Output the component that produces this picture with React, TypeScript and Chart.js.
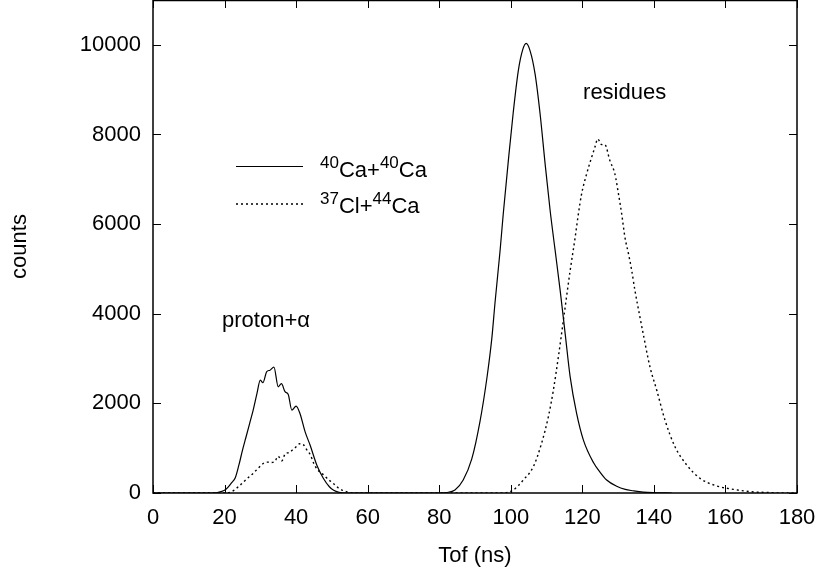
import React, { useEffect, useRef } from "react";
import { Chart, registerables } from "chart.js";

Chart.register(...registerables);

const FONT = "'Liberation Sans', Arial, Helvetica, sans-serif";

// ---- data (Tof in ns, counts) ----
const solidTof = [0, 17, 18, 19, 20, 21, 22, 23, 24, 25, 26, 27, 28, 29, 30, 30.7, 31.8, 32.7, 33.8, 35.0, 35.9, 36.9, 37.8, 38.8, 40.0, 41.1, 42.5, 43.9, 45.8, 47.6, 49.3, 50.5, 52, 54, 80, 82, 84.4, 86.7, 89.1, 91.4, 93.3, 94.7, 95.6, 97.0, 97.9, 99.3, 100.7, 102.1, 103.3, 104.3, 105.4, 106.8, 108.2, 109.6, 111.0, 112.4, 113.8, 115.2, 116.6, 118.4, 120.3, 123.1, 124.9, 126.8, 129.6, 132, 134.2, 137, 140, 145];
const solidCounts = [0, 0, 10, 30, 60, 130, 230, 340, 620, 950, 1250, 1550, 1850, 2200, 2520, 2460, 2710, 2740, 2810, 2370, 2440, 2260, 2200, 1850, 1940, 1770, 1370, 1070, 620, 330, 140, 60, 15, 0, 0, 10, 67, 290, 760, 1600, 2550, 3450, 4250, 5400, 6230, 7400, 8500, 9420, 9880, 10030, 9866, 9347, 8456, 7343, 6302, 5412, 4520, 3557, 2590, 1775, 1180, 680, 470, 290, 150, 80, 50, 20, 7, 0];

const dottedTof = [0, 20, 22, 24, 26, 28, 30, 31, 32, 33, 34, 35, 36, 37, 38, 39, 40, 41, 42, 43, 44, 45, 46, 47, 48, 49, 50, 51, 52, 53, 54, 55, 56, 98, 100.7, 103.5, 106.3, 108.6, 110.5, 111.9, 113.3, 114.7, 116.6, 118.0, 118.9, 119.8, 121.2, 122.6, 123.5, 124.3, 125.4, 126.3, 127.7, 129.1, 130.1, 131.0, 131.9, 132.9, 133.8, 134.7, 136.1, 137.0, 138.9, 140.8, 143.1, 145.9, 149.2, 152.9, 157.6, 162.2, 166.9, 173.4, 176, 180];
const dottedCounts = [0, 0, 30, 150, 300, 440, 600, 670, 690, 680, 700, 820, 720, 880, 900, 960, 1030, 1100, 1080, 960, 850, 650, 520, 450, 380, 300, 240, 170, 100, 60, 30, 10, 0, 0, 67, 290, 586, 1107, 1700, 2294, 3036, 3853, 4966, 5708, 6229, 6674, 7120, 7490, 7712, 7899, 7772, 7772, 7416, 7120, 6674, 6229, 5708, 5338, 4966, 4520, 3926, 3557, 2813, 2294, 1626, 1031, 624, 327, 156, 82, 30, 7, 0, 0];

const xTicks = [0, 20, 40, 60, 80, 100, 120, 140, 160, 180];
const yTicks = [0, 2000, 4000, 6000, 8000, 10000];
const xRange = [0, 180];
const yRange = [0, 11000];

const seriesLabels = ["40Ca+40Ca", "37Cl+44Ca"];
// rich legend text: [text, isSuperscript]
const legendRich: [string, boolean][][] = [
  [["40", true], ["Ca+", false], ["40", true], ["Ca", false]],
  [["37", true], ["Cl+", false], ["44", true], ["Ca", false]],
];
const annotations = [
  { text: "residues", x: 120.2, y: 8800 },
  { text: "proton+\u03b1", x: 19.3, y: 3700 },
];

const toPoints = (xs: number[], ys: number[]) => xs.map((x, i) => ({ x, y: ys[i] }));

export default function App() {
  const ref = useRef<HTMLCanvasElement>(null);

  useEffect(() => {
    const canvas = ref.current!;
    const overlay = {
      id: "overlay",
      afterDraw(chart: any) {
        const { ctx, chartArea } = chart;
        const { left, right, top, bottom } = chartArea;
        const xs = chart.scales.x;
        const ys = chart.scales.y;
        ctx.save();
        ctx.strokeStyle = "#000";
        // frame
        ctx.lineWidth = 1.5;
        ctx.strokeRect(left, top + 0.5, right - left, bottom - top - 0.5);
        // inward ticks on all four sides
        ctx.lineWidth = 1;
        const tl = 8;
        xs.ticks.forEach((t: any) => {
          const px = Math.round(xs.getPixelForValue(t.value)) + 0.5;
          ctx.beginPath();
          ctx.moveTo(px, bottom);
          ctx.lineTo(px, bottom - tl);
          ctx.moveTo(px, top);
          ctx.lineTo(px, top + tl);
          ctx.stroke();
        });
        ys.ticks.forEach((t: any) => {
          const py = Math.round(ys.getPixelForValue(t.value)) + 0.5;
          ctx.beginPath();
          ctx.moveTo(left, py);
          ctx.lineTo(left + tl, py);
          ctx.moveTo(right, py);
          ctx.lineTo(right - tl, py);
          ctx.stroke();
        });
        // annotations
        ctx.fillStyle = "#000";
        ctx.font = `22px ${FONT}`;
        ctx.textAlign = "left";
        ctx.textBaseline = "alphabetic";
        annotations.forEach((a) => {
          ctx.fillText(a.text, xs.getPixelForValue(a.x), ys.getPixelForValue(a.y));
        });
        // legend
        const rows = [166.5, 204];
        const baselines = [177, 213];
        chart.data.datasets.forEach((ds: any, i: number) => {
          ctx.save();
          ctx.lineWidth = ds.borderWidth;
          ctx.setLineDash(ds.borderDash || []);
          ctx.beginPath();
          ctx.moveTo(236, rows[i]);
          ctx.lineTo(303, rows[i]);
          ctx.stroke();
          ctx.restore();
          let x = 320;
          legendRich[i].forEach(([txt, sup]) => {
            ctx.font = sup ? `17px ${FONT}` : `22px ${FONT}`;
            ctx.fillText(txt, x, sup ? baselines[i] - 9 : baselines[i]);
            x += ctx.measureText(txt).width;
          });
        });
        ctx.restore();
      },
    };

    const zeroPad = (s: any) => {
      s.paddingTop = 0;
      s.paddingBottom = 0;
      s.paddingLeft = 0;
      s.paddingRight = 0;
    };

    const chart = new Chart(canvas, {
      type: "line",
      data: {
        datasets: [
          {
            label: seriesLabels[0],
            data: toPoints(solidTof, solidCounts),
            borderColor: "#000",
            borderWidth: 1.2,
            pointRadius: 0,
            cubicInterpolationMode: "monotone",
            fill: false,
          },
          {
            label: seriesLabels[1],
            data: toPoints(dottedTof, dottedCounts),
            borderColor: "#000",
            borderWidth: 1.4,
            borderDash: [2, 3],
            pointRadius: 0,
            cubicInterpolationMode: "monotone",
            fill: false,
          },
        ],
      },
      options: {
        responsive: false,
        animation: false,
        devicePixelRatio: 1,
        layout: { padding: { left: 0, right: 28, top: 0, bottom: 0 } },
        plugins: { legend: { display: false }, tooltip: { enabled: false } },
        scales: {
          x: {
            type: "linear",
            min: xRange[0],
            max: xRange[1],
            afterBuildTicks: (s: any) => {
              s.ticks = xTicks.map((v) => ({ value: v }));
            },
            afterFit: (s: any) => {
              s.height = 80;
              zeroPad(s);
            },
            grid: { display: false, drawTicks: false },
            border: { display: false },
            ticks: {
              color: "#000",
              font: { family: FONT, size: 22 },
              padding: 12,
              maxRotation: 0,
              autoSkip: false,
              callback: (v: any) => String(v),
            },
            title: {
              display: true,
              text: "Tof (ns)",
              color: "#000",
              font: { family: FONT, size: 22 },
              padding: { top: 0, bottom: 4 },
            },
          },
          y: {
            type: "linear",
            min: yRange[0],
            max: yRange[1],
            afterBuildTicks: (s: any) => {
              s.ticks = yTicks.map((v) => ({ value: v }));
            },
            afterFit: (s: any) => {
              s.width = 153;
              zeroPad(s);
            },
            grid: { display: false, drawTicks: false },
            border: { display: false },
            ticks: {
              color: "#000",
              font: { family: FONT, size: 22 },
              padding: 12,
              autoSkip: false,
              callback: (v: any) => String(v),
            },
            title: {
              display: true,
              text: "counts",
              color: "#000",
              font: { family: FONT, size: 22 },
              padding: { top: 7, bottom: 0 },
            },
          },
        },
      },
      plugins: [overlay],
    } as any);
    return () => chart.destroy();
  }, []);

  return (
    <div style={{ position: "fixed", left: 0, top: 0, width: 825, height: 573, background: "#fff" }}>
      <canvas ref={ref} width={825} height={573} style={{ display: "block", width: 825, height: 573 }} />
    </div>
  );
}
